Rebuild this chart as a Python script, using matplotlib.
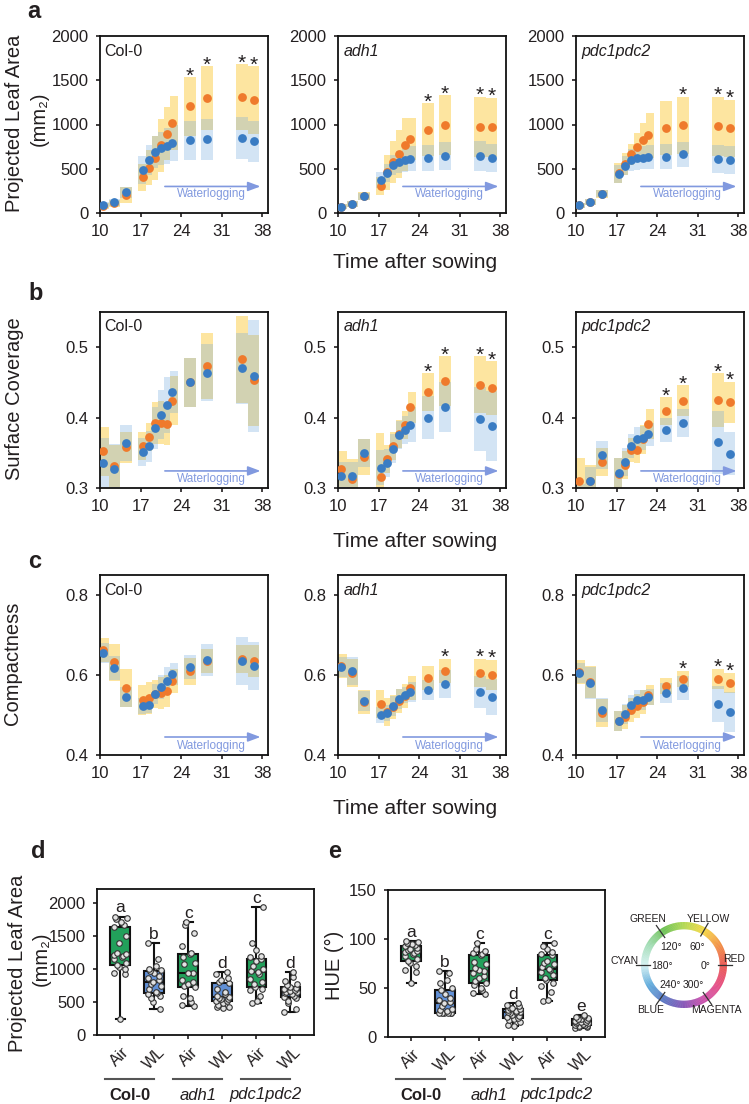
import numpy as np
import matplotlib
matplotlib.use('Agg')
import matplotlib.pyplot as plt
from matplotlib.transforms import blended_transform_factory
from matplotlib.colors import LinearSegmentedColormap

# ---------------- data ----------------
DAYS = [10.5, 12.5, 14.5, 17.5, 18.5, 19.5, 20.5, 21.5, 22.5, 25.5, 28.5, 34.5, 36.5]
GENOTYPES = ['Col-0', 'adh1', 'pdc1pdc2']
XTICKS = [10, 17, 24, 31, 38]

# (a) projected leaf area
A_COL_AIR = [75, 112, 205, 404, 512, 624, 766, 897, 1017, 1204, 1297, 1308, 1278]
A_COL_AIR_SD = [35, 40, 90, 150, 200, 250, 300, 300, 300, 330, 360, 370, 380]
A_COL_WL = [93, 123, 232, 486, 594, 692, 729, 759, 793, 822, 834, 849, 811]
A_COL_WL_SD = [35, 40, 60, 160, 170, 180, 190, 200, 200, 220, 230, 240, 230]
A_ADH_AIR = [72, 102, 189, 302, 461, 575, 669, 771, 839, 941, 991, 975, 968]
A_ADH_AIR_SD = [25, 30, 45, 100, 200, 240, 270, 300, 240, 300, 340, 340, 330]
A_ADH_WL = [72, 102, 189, 374, 454, 544, 575, 594, 612, 624, 643, 643, 620]
A_ADH_WL_SD = [25, 30, 40, 90, 100, 110, 120, 130, 140, 150, 160, 165, 160]
A_PDC_AIR = [86, 123, 217, 449, 553, 665, 748, 822, 879, 961, 991, 979, 957]
A_PDC_AIR_SD = [25, 35, 45, 112, 127, 120, 157, 195, 254, 310, 320, 330, 320]
A_PDC_WL = [86, 123, 217, 441, 535, 598, 617, 624, 628, 636, 662, 609, 598]
A_PDC_WL_SD = [25, 30, 40, 100, 110, 120, 130, 130, 135, 140, 140, 155, 155]
A_STARS = [[25.5, 28.5, 34.5, 36.5], [25.5, 28.5, 34.5, 36.5], [28.5, 34.5, 36.5]]
A_YTICKS = [0, 500, 1000, 1500, 2000]

# (b) surface coverage
B_COL_AIR = [0.352, 0.331, 0.358, 0.360, 0.372, 0.392, 0.393, 0.391, 0.424, 0.450, 0.473, 0.483, 0.453]
B_COL_AIR_SD = [0.035, 0.03, 0.022, 0.02, 0.02, 0.03, 0.03, 0.03, 0.035, 0.035, 0.047, 0.062, 0.065]
B_COL_WL = [0.336, 0.327, 0.364, 0.351, 0.359, 0.385, 0.404, 0.418, 0.436, 0.450, 0.464, 0.470, 0.459]
B_COL_WL_SD = [0.035, 0.035, 0.025, 0.02, 0.022, 0.03, 0.035, 0.04, 0.03, 0.035, 0.04, 0.05, 0.08]
B_ADH_AIR = [0.327, 0.313, 0.344, 0.315, 0.341, 0.360, 0.377, 0.390, 0.415, 0.436, 0.452, 0.447, 0.442]
B_ADH_AIR_SD = [0.025, 0.028, 0.025, 0.063, 0.02, 0.02, 0.02, 0.02, 0.022, 0.027, 0.035, 0.04, 0.038]
B_ADH_WL = [0.317, 0.317, 0.350, 0.329, 0.336, 0.356, 0.375, 0.382, 0.390, 0.400, 0.415, 0.398, 0.388]
B_ADH_WL_SD = [0.02, 0.02, 0.02, 0.025, 0.02, 0.02, 0.02, 0.02, 0.025, 0.03, 0.035, 0.045, 0.05]
B_PDC_AIR = [0.310, 0.310, 0.337, 0.320, 0.333, 0.354, 0.354, 0.369, 0.391, 0.409, 0.424, 0.425, 0.422]
B_PDC_AIR_SD = [0.033, 0.023, 0.02, 0.022, 0.02, 0.017, 0.018, 0.02, 0.021, 0.02, 0.022, 0.038, 0.029]
B_PDC_WL = [0.285, 0.310, 0.347, 0.322, 0.337, 0.360, 0.369, 0.371, 0.376, 0.383, 0.392, 0.365, 0.349]
B_PDC_WL_SD = [0.02, 0.02, 0.02, 0.02, 0.02, 0.017, 0.017, 0.017, 0.017, 0.017, 0.02, 0.045, 0.03]
B_STARS = [[], [25.5, 28.5, 34.5, 36.5], [25.5, 28.5, 34.5, 36.5]]
B_YTICKS = [0.3, 0.4, 0.5]
B_YTICKLABELS = ['0.3', '0.4', '0.5']

# (c) compactness
C_COL_AIR = [0.662, 0.632, 0.567, 0.537, 0.543, 0.552, 0.554, 0.561, 0.586, 0.609, 0.634, 0.640, 0.634]
C_COL_AIR_SD = [0.03, 0.046, 0.048, 0.037, 0.04, 0.035, 0.04, 0.04, 0.03, 0.034, 0.03, 0.035, 0.04]
C_COL_WL = [0.655, 0.617, 0.546, 0.522, 0.524, 0.552, 0.571, 0.585, 0.603, 0.620, 0.637, 0.634, 0.622]
C_COL_WL_SD = [0.025, 0.03, 0.025, 0.02, 0.02, 0.025, 0.03, 0.035, 0.028, 0.03, 0.04, 0.06, 0.06]
C_ADH_AIR = [0.622, 0.604, 0.533, 0.528, 0.507, 0.520, 0.536, 0.547, 0.568, 0.593, 0.610, 0.606, 0.600]
C_ADH_AIR_SD = [0.03, 0.035, 0.03, 0.035, 0.035, 0.03, 0.03, 0.03, 0.03, 0.03, 0.03, 0.035, 0.038]
C_ADH_WL = [0.621, 0.611, 0.534, 0.499, 0.505, 0.522, 0.540, 0.549, 0.557, 0.562, 0.578, 0.557, 0.545]
C_ADH_WL_SD = [0.025, 0.035, 0.025, 0.02, 0.02, 0.025, 0.025, 0.02, 0.025, 0.025, 0.035, 0.04, 0.045]
C_PDC_AIR = [0.608, 0.582, 0.505, 0.486, 0.494, 0.513, 0.523, 0.532, 0.550, 0.572, 0.590, 0.590, 0.580]
C_PDC_AIR_SD = [0.03, 0.04, 0.035, 0.025, 0.03, 0.03, 0.03, 0.03, 0.025, 0.02, 0.02, 0.025, 0.025]
C_PDC_WL = [0.605, 0.580, 0.513, 0.486, 0.503, 0.525, 0.538, 0.538, 0.544, 0.554, 0.567, 0.528, 0.508]
C_PDC_WL_SD = [0.025, 0.04, 0.03, 0.025, 0.025, 0.025, 0.025, 0.025, 0.02, 0.025, 0.03, 0.045, 0.05]
C_STARS = [[], [28.5, 34.5, 36.5], [28.5, 34.5, 36.5]]
C_YTICKS = [0.4, 0.6, 0.8]
C_YTICKLABELS = ['0.4', '0.6', '0.8']

# (d) projected leaf area, box plots
BOX_LABELS = ['Air', 'WL', 'Air', 'WL', 'Air', 'WL']
D_COL_AIR = [250, 920, 950, 1000, 1040, 1060, 1100, 1150, 1180, 1200, 1215, 1230, 1250, 1400, 1500, 1635, 1680, 1720, 1760, 1780, 1800]
D_COL_WL = [400, 500, 560, 600, 620, 633, 660, 700, 740, 780, 810, 840, 870, 900, 940, 977, 990, 1000, 1050, 1150, 1400]
D_ADH_AIR = [440, 460, 500, 560, 600, 734, 750, 780, 800, 830, 937, 950, 1080, 1100, 1180, 1230, 1250, 1350, 1550, 1680, 1720]
D_ADH_WL = [410, 420, 430, 450, 480, 511, 520, 540, 555, 570, 582, 600, 620, 650, 700, 785, 800, 830, 870, 920, 962]
D_PDC_AIR = [481, 520, 600, 680, 700, 724, 780, 800, 850, 920, 962, 980, 1000, 1050, 1120, 1149, 1180, 1200, 1300, 1400, 1939]
D_PDC_WL = [354, 400, 480, 520, 560, 582, 600, 620, 640, 650, 658, 670, 690, 700, 720, 724, 760, 780, 820, 880, 962]
D_LETTERS = ['a', 'b', 'c', 'd', 'c', 'd']
D_YTICKS = [0, 500, 1000, 1500, 2000]

# (e) hue, box plots
E_COL_AIR = [55, 66, 68, 72, 76, 77.7, 80, 83, 85, 86, 87, 88, 89, 90, 91, 93, 94, 95, 96, 97, 98]
E_COL_WL = [24, 24.5, 25, 25, 25, 25, 27, 28, 29, 32, 35, 36, 38, 40, 44, 48, 50, 55, 58, 65, 67]
E_ADH_AIR = [43.6, 45, 48, 50, 53, 55, 57, 60, 62, 65, 67, 68, 70, 74, 77, 84, 85, 86, 88, 90, 96]
E_ADH_WL = [11, 12, 15, 17, 18, 19.4, 20, 21, 22, 24, 25.6, 26, 26, 27, 28, 29, 29.5, 30, 32, 33, 35]
E_PDC_AIR = [36.5, 38, 46, 52, 55, 58, 60, 63, 66, 68, 69, 71, 74, 76, 78, 84, 85, 87, 90, 93, 96]
E_PDC_WL = [9, 10, 10, 11, 11.5, 12, 12.5, 13, 14, 14.5, 15, 15, 15.5, 16, 17, 18, 18, 19, 20, 21, 22]
E_LETTERS = ['a', 'b', 'c', 'd', 'c', 'e']
E_YTICKS = [0, 50, 100, 150]

# colour wheel
WHEEL_NAMES = ['RED', 'YELLOW', 'GREEN', 'CYAN', 'BLUE', 'MAGENTA']
WHEEL_DEGREES = ['0°', '60°', '120°', '180°', '240°', '300°']
WHEEL_ANCHORS = ['#e5322a', '#f07c1c', '#f4d11b', '#9fcf2b', '#4cb42f', '#8fd6a6',
                 '#cdeff0', '#3f9ad5', '#3559b6', '#6a2ea6', '#c0299a', '#e0266a', '#e5322a']

# ---------------- style ----------------
FONT = ['Liberation Sans', 'DejaVu Sans']
plt.rcParams['font.family'] = FONT
plt.rcParams['axes.linewidth'] = 1.3
TXT = '#231f20'
ORANGE = '#ef7a2c'
BLUE = '#3a7cc3'
BAND_AIR = '#fde5a0'
BAND_WL = '#6fa8dc'
ARROW_COL = '#8199df'
GREEN_BOX = '#22a05b'
BLUE_BOX = '#6190d6'

W, H = 749, 1104
fig = plt.figure(figsize=(W / 100, H / 100), dpi=100)


def add_ax(l, t, r, b):
    return fig.add_axes([l / W, 1 - b / H, (r - l) / W, (b - t) / H])


def ftext(x, y, s, **kw):
    kw.setdefault('color', TXT)
    return fig.text(x / W, 1 - y / H, s, **kw)


def style_ax(ax):
    for sp in ax.spines.values():
        sp.set_linewidth(1.3)
        sp.set_color('#111111')
    ax.tick_params(direction='out', length=3.2, width=1.2, pad=5,
                   labelsize=12, colors=TXT)


def draw_series(ax, air, air_sd, wl, wl_sd, stars, name, ylim, yticks,
                yticklabels, arrow_y, text_y):
    x = np.array(DAYS)
    air, air_sd = np.array(air), np.array(air_sd)
    wl, wl_sd = np.array(wl), np.array(wl_sd)
    gaps = np.diff(x)
    left = np.minimum(1.0, np.concatenate([[2.0], gaps]) / 2)
    right = np.minimum(1.0, np.concatenate([gaps, [2.0]]) / 2)
    ax.bar(x - left, 2 * air_sd, bottom=air - air_sd, width=left + right,
           align='edge', color=BAND_AIR, linewidth=0, zorder=1)
    ax.bar(x - left, 2 * wl_sd, bottom=wl - wl_sd, width=left + right,
           align='edge', color=BAND_WL, alpha=0.3, linewidth=0, zorder=2)
    ax.scatter(x, air, s=40, color=ORANGE, linewidths=0, zorder=3)
    ax.scatter(x, wl, s=40, color=BLUE, linewidths=0, zorder=4)
    for d in stars:
        i = DAYS.index(d)
        top = max(air[i] + air_sd[i], wl[i] + wl_sd[i])
        ax.annotate('*', (d, top), xytext=(0, -3), textcoords='offset points',
                    ha='center', va='baseline', fontsize=15, color=TXT, zorder=5)
    ax.set_xlim(10, 39)
    ax.set_ylim(*ylim)
    ax.set_xticks(XTICKS)
    ax.set_yticks(yticks)
    if yticklabels is not None:
        ax.set_yticklabels(yticklabels)
    style = 'normal' if name == 'Col-0' else 'italic'
    ax.text(0.025 if name == 'Col-0' else 0.032, 0.915, name,
            transform=ax.transAxes, fontsize=11.5, style=style,
            ha='left', va='center', color=TXT)
    tr = blended_transform_factory(ax.transData, ax.transAxes)
    ax.annotate('', xy=(37.7, arrow_y), xycoords=tr, xytext=(21.2, arrow_y),
                textcoords=tr,
                arrowprops=dict(arrowstyle='-|>,head_length=0.75,head_width=0.28',
                                color=ARROW_COL, lw=1.2, shrinkA=0, shrinkB=0))
    ax.text(29.3, text_y, 'Waterlogging', transform=tr, ha='center',
            va='center', fontsize=8.5, color=ARROW_COL)
    style_ax(ax)


LEFTS = [100, 338, 576]
AX_W = 168
ROWS = [
    dict(top=36, bottom=213,
         series=[(A_COL_AIR, A_COL_AIR_SD, A_COL_WL, A_COL_WL_SD),
                 (A_ADH_AIR, A_ADH_AIR_SD, A_ADH_WL, A_ADH_WL_SD),
                 (A_PDC_AIR, A_PDC_AIR_SD, A_PDC_WL, A_PDC_WL_SD)],
         stars=A_STARS, ylim=(0, 2000), yticks=A_YTICKS, ylabels=None,
         arrow=(0.15, 0.105)),
    dict(top=312, bottom=488,
         series=[(B_COL_AIR, B_COL_AIR_SD, B_COL_WL, B_COL_WL_SD),
                 (B_ADH_AIR, B_ADH_AIR_SD, B_ADH_WL, B_ADH_WL_SD),
                 (B_PDC_AIR, B_PDC_AIR_SD, B_PDC_WL, B_PDC_WL_SD)],
         stars=B_STARS, ylim=(0.3, 0.55), yticks=B_YTICKS, ylabels=B_YTICKLABELS,
         arrow=(0.097, 0.05)),
    dict(top=575, bottom=755,
         series=[(C_COL_AIR, C_COL_AIR_SD, C_COL_WL, C_COL_WL_SD),
                 (C_ADH_AIR, C_ADH_AIR_SD, C_ADH_WL, C_ADH_WL_SD),
                 (C_PDC_AIR, C_PDC_AIR_SD, C_PDC_WL, C_PDC_WL_SD)],
         stars=C_STARS, ylim=(0.4, 0.85), yticks=C_YTICKS, ylabels=C_YTICKLABELS,
         arrow=(0.10, 0.052)),
]

for row in ROWS:
    for gi, name in enumerate(GENOTYPES):
        ax = add_ax(LEFTS[gi], row['top'], LEFTS[gi] + AX_W, row['bottom'])
        air, air_sd, wl, wl_sd = row['series'][gi]
        draw_series(ax, air, air_sd, wl, wl_sd, row['stars'][gi], name,
                    row['ylim'], row['yticks'], row['ylabels'],
                    row['arrow'][0], row['arrow'][1])

# axis titles for a-c
for yb in (268, 547, 814):
    ftext(415, yb, 'Time after sowing', ha='center', va='baseline', fontsize=15)
ftext(15, 123, 'Projected Leaf Area', rotation=90, ha='center', va='center', fontsize=14.5)
ftext(39, 119, '(mm₂)', rotation=90, ha='center', va='center', fontsize=14.5)
ftext(15, 399, 'Surface Coverage', rotation=90, ha='center', va='center', fontsize=14.5)
ftext(13, 663, 'Compactness', rotation=90, ha='center', va='center', fontsize=14.5)

# panel letters
for lab, x, y in [('a', 27, 18), ('b', 28, 300), ('c', 28, 568), ('d', 31, 858), ('e', 328, 858)]:
    ftext(x, y, lab, ha='left', va='baseline', fontsize=17, fontweight='bold')


# ---------------- box plots ----------------
def draw_box(ax, groups, letters, ylim, yticks):
    pos = np.arange(len(groups))
    bp = ax.boxplot(groups, positions=pos, widths=0.58, whis=(0, 100),
                    patch_artist=True, showfliers=False, capwidths=0.26,
                    boxprops=dict(linewidth=1.5, edgecolor='#111111'),
                    medianprops=dict(color='#111111', linewidth=1.5),
                    whiskerprops=dict(color='#111111', linewidth=1.5),
                    capprops=dict(color='#111111', linewidth=1.5), zorder=2)
    for i, patch in enumerate(bp['boxes']):
        patch.set_facecolor(GREEN_BOX if i % 2 == 0 else BLUE_BOX)
    for i, vals in enumerate(groups):
        n = len(vals)
        jitter = 0.19 * np.sin(np.arange(n) * 2.399 + i)
        ax.scatter(pos[i] + jitter, vals, s=16, facecolor='#e3e3e3',
                   edgecolor='#333333', linewidths=0.8, zorder=4)
        ax.annotate(letters[i], (pos[i], max(vals)), xytext=(0, 3),
                    textcoords='offset points', ha='center', va='baseline',
                    fontsize=12.5, color=TXT)
    ax.set_xlim(-0.68, 5.69)
    ax.set_ylim(*ylim)
    ax.set_yticks(yticks)
    ax.set_xticks(pos)
    ax.set_xticklabels(BOX_LABELS, rotation=45, ha='center', va='top')
    style_ax(ax)
    ax.tick_params(axis='x', labelsize=11.5, pad=4)
    trans = blended_transform_factory(ax.transData, fig.transFigure)
    for g, name in enumerate(GENOTYPES):
        a, b = 2 * g - 0.45, 2 * g + 1.0
        ax.plot([a, b], [1 - 1079 / H] * 2, transform=trans, clip_on=False,
                color='#555555', lw=1.5)
        kw = dict(fontweight='bold') if name == 'Col-0' else dict(style='italic')
        ax.text((a + b) / 2, 1 - 1095 / H, name, transform=trans, ha='center',
                va='center', fontsize=12, color=TXT, **kw)


axd = add_ax(97, 889, 314, 1035)
draw_box(axd, [D_COL_AIR, D_COL_WL, D_ADH_AIR, D_ADH_WL, D_PDC_AIR, D_PDC_WL],
         D_LETTERS, (0, 2220), D_YTICKS)
ftext(18, 963, 'Projected Leaf Area', rotation=90, ha='center', va='center', fontsize=14.5)
ftext(41, 959, '(mm₂)', rotation=90, ha='center', va='center', fontsize=14.5)

axe = add_ax(388, 890, 605, 1037)
draw_box(axe, [E_COL_AIR, E_COL_WL, E_ADH_AIR, E_ADH_WL, E_PDC_AIR, E_PDC_WL],
         E_LETTERS, (0, 150), E_YTICKS)
ftext(334, 965, 'HUE (°)', rotation=90, ha='center', va='center', fontsize=14.5)

# ---------------- colour wheel ----------------
axw = add_ax(684 - 86, 965 - 86, 684 + 86, 965 + 86)
cmap = LinearSegmentedColormap.from_list('wheel', WHEEL_ANCHORS)
wcols = [cmap(h / 359.0) for h in range(360)]
axw.pie(np.ones(360), colors=wcols, startangle=0, counterclock=True, radius=1.0,
        wedgeprops=dict(width=0.17, linewidth=0))
axw.set_xlim(-2, 2)
axw.set_ylim(-2, 2)
axw.set_aspect('equal')
axw.axis('off')
LINE_ANG = [0, 60, 125, 180, 235, 305]
for ang in LINE_ANG:
    t = np.deg2rad(ang)
    axw.plot([0.78 * np.cos(t), 1.12 * np.cos(t)], [0.78 * np.sin(t), 1.12 * np.sin(t)],
             color='#333333', lw=0.9)
name_pos = [(0.92, 0.15, 'left'), (0.56, 1.06, 'center'), (-0.84, 1.06, 'center'),
            (-1.06, 0.1, 'right'), (-0.77, -1.05, 'center'), (0.76, -1.05, 'center')]
for nm, (x, y, ha) in zip(WHEEL_NAMES, name_pos):
    axw.text(x, y, nm, ha=ha, va='center', fontsize=7.5, color=TXT)
deg_pos = [(0.5, -0.02), (0.3, 0.43), (-0.3, 0.43), (-0.52, -0.02), (-0.32, -0.47), (0.22, -0.47)]
for dg, (x, y) in zip(WHEEL_DEGREES, deg_pos):
    axw.text(x, y, dg, ha='center', va='center', fontsize=7.5, color=TXT)

fig.savefig('out.png', dpi=100)
